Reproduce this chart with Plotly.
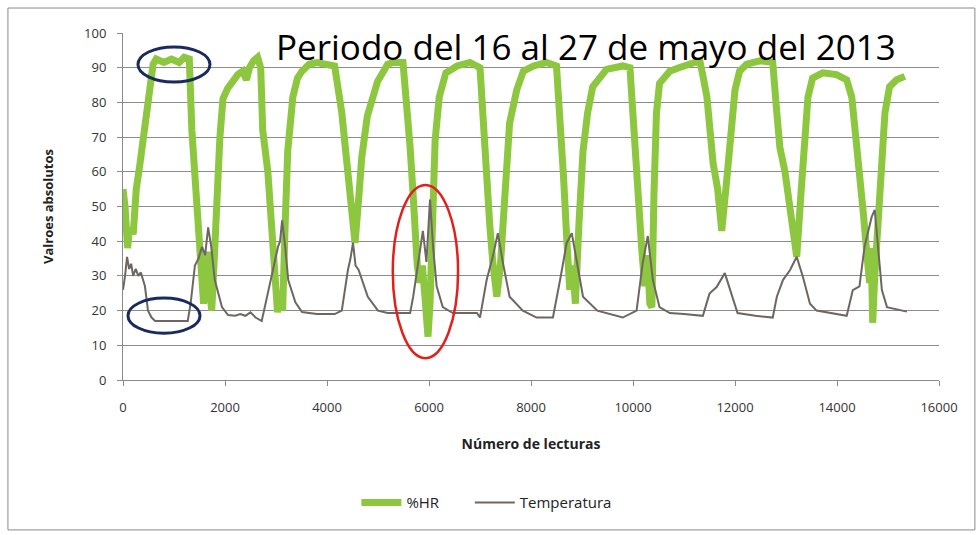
import plotly.graph_objects as go

# ---- data ----
hr_x = [0, 40, 90, 130, 200, 260, 330, 400, 460, 520, 590, 650, 800, 950, 1100, 1200, 1300,
        1350, 1420, 1470, 1520, 1580, 1630, 1660, 1700, 1740, 1790, 1840, 1900, 1960, 2050,
        2150, 2250, 2350, 2420, 2480, 2560, 2640, 2700, 2740, 2840, 2920, 2980, 3030, 3080,
        3130, 3180, 3230, 3330, 3420, 3510, 3650, 3800, 4000, 4150, 4290, 4410, 4480, 4550,
        4620, 4680, 4790, 4990, 5190, 5300, 5490, 5560, 5630, 5690, 5720, 5770, 5820, 5870,
        5920, 5980, 6020, 6060, 6090, 6120, 6200, 6330, 6550, 6800, 7000, 7100, 7190, 7250,
        7330, 7400, 7450, 7510, 7580, 7720, 7850, 8050, 8300, 8500, 8570, 8640, 8700, 8760,
        8820, 8870, 8940, 9020, 9110, 9210, 9480, 9800, 9940, 10010, 10090, 10170, 10230,
        10280, 10330, 10370, 10410, 10460, 10520, 10720, 10900, 11170, 11310, 11380, 11450,
        11510, 11570, 11660, 11740, 11840, 11940, 12000, 12090, 12230, 12490, 12740, 12820,
        12880, 12980, 13080, 13210, 13290, 13370, 13430, 13520, 13720, 13990, 14190, 14290,
        14390, 14450, 14510, 14600, 14640, 14670, 14700, 14740, 14790, 14880, 14940, 15030,
        15170, 15330]
hr_y = [55, 50, 38, 44, 42, 55, 62, 70, 75, 82, 91, 92.5, 91.5, 92.5, 91.5, 93, 92.5,
        72, 55, 43, 30, 22, 30, 37, 26, 20, 35, 55, 70, 81, 84,
        86, 88, 89, 86.5, 90, 92, 93, 90, 72, 60, 43, 28, 19.5, 25,
        20, 45, 66, 81.5, 87, 89, 91, 91.5, 91, 90.5, 77, 58, 48, 39.5,
        52, 64, 76, 86, 91, 91.5, 91.5, 81.5, 67, 53, 43, 33, 28, 33,
        24, 12.5, 22, 40, 53, 69, 81.5, 88.5, 90.5, 91.5, 90, 62.5, 45, 34,
        24, 33, 43, 60, 74, 83.6, 89, 90.5, 91.5, 90.5, 77, 58, 41, 26,
        33, 22, 45, 66, 77, 84.5, 89.5, 90.5, 90, 72, 53, 38, 27,
        36, 22, 21, 53, 77, 85.5, 89, 90, 91, 92, 87, 81.5,
        72, 62.5, 55, 43, 58, 72, 83.6, 89, 91, 92, 91.5, 77,
        67, 60, 49, 35.5, 53, 72, 81.5, 87, 88.5, 88, 86.5, 81.5,
        67, 62.5, 49, 34, 28, 38, 16.5, 30, 43, 62.5, 77, 84.5,
        86.5, 87.5]

temp_x = [0, 40, 80, 120, 160, 200, 250, 300, 350, 400, 430, 490, 560, 630, 1270, 1330, 1410,
          1480, 1550, 1610, 1670, 1730, 1800, 1940, 2060, 2200, 2300, 2400, 2500, 2600, 2720,
          2780, 2900, 3000, 3040, 3080, 3120, 3180, 3240, 3380, 3510, 3800, 4150, 4290, 4410,
          4460, 4510, 4560, 4620, 4800, 5000, 5190, 5630, 5690, 5780, 5880, 5950, 6020, 6080,
          6150, 6270, 6470, 6940, 7000, 7130, 7250, 7350, 7450, 7580, 7840, 8110, 8430, 8570,
          8700, 8800, 8900, 9020, 9300, 9800, 10070, 10190, 10290, 10390, 10520, 10720, 11000,
          11370, 11500, 11640, 11800, 11940, 12050, 12400, 12740, 12820, 12940, 13080, 13210,
          13330, 13470, 13600, 14190, 14310, 14440, 14540, 14680, 14740, 14800, 14880, 14980,
          15370]
temp_y = [26, 30, 35.5, 32, 33.5, 30, 32, 30, 31, 28, 27, 20, 18, 17, 17, 22.5, 33,
          35, 38.4, 36, 44, 38.4, 28.8, 21, 18.7, 18.5, 19, 18.5, 19.5, 18, 17,
          21, 28.8, 35, 38.4, 40, 46, 38.4, 28.8, 22.4, 19.6, 19, 19, 20, 31.7,
          35, 39.5, 33, 31.7, 24, 20, 19.3, 19.3, 24, 33.7, 43, 34, 52, 38.4,
          27, 21, 19.3, 19.3, 18, 28.8, 35.5, 42.3, 33.7, 24, 20, 18, 18, 28.8,
          39.5, 42.3, 33.7, 24, 20, 18, 20, 33.7, 41.5, 28.8, 21, 19.3, 19,
          18.5, 24.9, 26.8, 30.8, 24, 19.3, 18.5, 18, 24, 28.8, 31.7, 35.5,
          29.8, 22, 20, 18.5, 25.9, 27, 38.4, 47, 49, 38.4, 25.9, 21,
          19.7]

x_ticks = [0, 2000, 4000, 6000, 8000, 10000, 12000, 14000, 16000]
y_ticks = [0, 10, 20, 30, 40, 50, 60, 70, 80, 90, 100]

title_text = "Periodo del 16 al 27 de mayo del 2013"
x_title = "Número de lecturas"
y_title = "Valroes absolutos"

# highlighted regions (data units)
blue_top = dict(x0=294, x1=1705, y0=85.9, y1=96)
blue_bottom = dict(x0=98, x1=1510, y0=13.5, y1=23.6)
red_mid = dict(x0=5290, x1=6570, y0=6.3, y1=56.2)

GREEN = "#8DC63F"
GRAY = "#6E6662"
FONT = "Open Sans"

fig = go.Figure()
fig.add_trace(go.Scatter(x=hr_x, y=hr_y, mode="lines", name="%HR", legend="legend",
                         line=dict(color=GREEN, width=7)))
fig.add_trace(go.Scatter(x=temp_x, y=temp_y, mode="lines", name="Temperatura", legend="legend2",
                         line=dict(color=GRAY, width=2)))

for e, c, w in [(blue_top, "#1B2A5C", 3), (blue_bottom, "#1B2A5C", 3), (red_mid, "#E0201B", 2.5)]:
    fig.add_shape(type="circle", xref="x", yref="y", line=dict(color=c, width=w),
                  fillcolor="rgba(0,0,0,0)", **e)

# outer chart border
fig.add_shape(type="rect", xref="paper", yref="paper", x0=-0.141, x1=1.044, y0=-0.432, y1=1.072,
              line=dict(color="#8a8a8a", width=1), layer="below")

fig.add_annotation(text=title_text, xref="paper", yref="paper", x=0.567, y=0.962,
                   showarrow=False, xanchor="center", yanchor="middle",
                   font=dict(family=FONT, size=35, color="#000000"))

legend_common = dict(orientation="h", y=-0.354, yanchor="middle",
                     font=dict(family=FONT, size=15, color="#222222"),
                     bgcolor="rgba(0,0,0,0)", itemwidth=40)

fig.update_layout(
    width=979, height=535,
    margin=dict(l=123, r=40, t=33, b=155),
    paper_bgcolor="white", plot_bgcolor="white",
    font=dict(family=FONT, size=13, color="#333333"),
    showlegend=True,
    legend=dict(x=0.286, xanchor="left", **legend_common),
    legend2=dict(x=0.425, xanchor="left", **legend_common),
)
fig.update_xaxes(range=[0, 16000], tickvals=x_ticks, ticktext=[str(t) for t in x_ticks],
                 showgrid=False, zeroline=False, showline=True, linecolor="#8a8a8a", linewidth=1,
                 ticks="outside", ticklen=5, tickcolor="#8a8a8a", ticklabelstandoff=10,
                 tickfont=dict(family=FONT, size=13, color="#333333"),
                 title=dict(text=f"<b>{x_title}</b>", font=dict(family=FONT, size=14, color="#222222"),
                            standoff=24))
fig.update_yaxes(range=[0, 100], tickvals=y_ticks, showgrid=True, gridcolor="#8c8c8c", gridwidth=1,
                 zeroline=False, showline=True, linecolor="#8a8a8a", linewidth=1,
                 ticks="outside", ticklen=5, tickcolor="#8a8a8a", ticklabelstandoff=8,
                 tickfont=dict(family=FONT, size=13, color="#333333"),
                 title=dict(text=f"<b>{y_title}</b>", font=dict(family=FONT, size=13, color="#222222"),
                            standoff=27))

fig.write_html("out.html", config={"displayModeBar": False},
               post_script="document.body.style.margin='0px';document.body.style.overflow='hidden';")
